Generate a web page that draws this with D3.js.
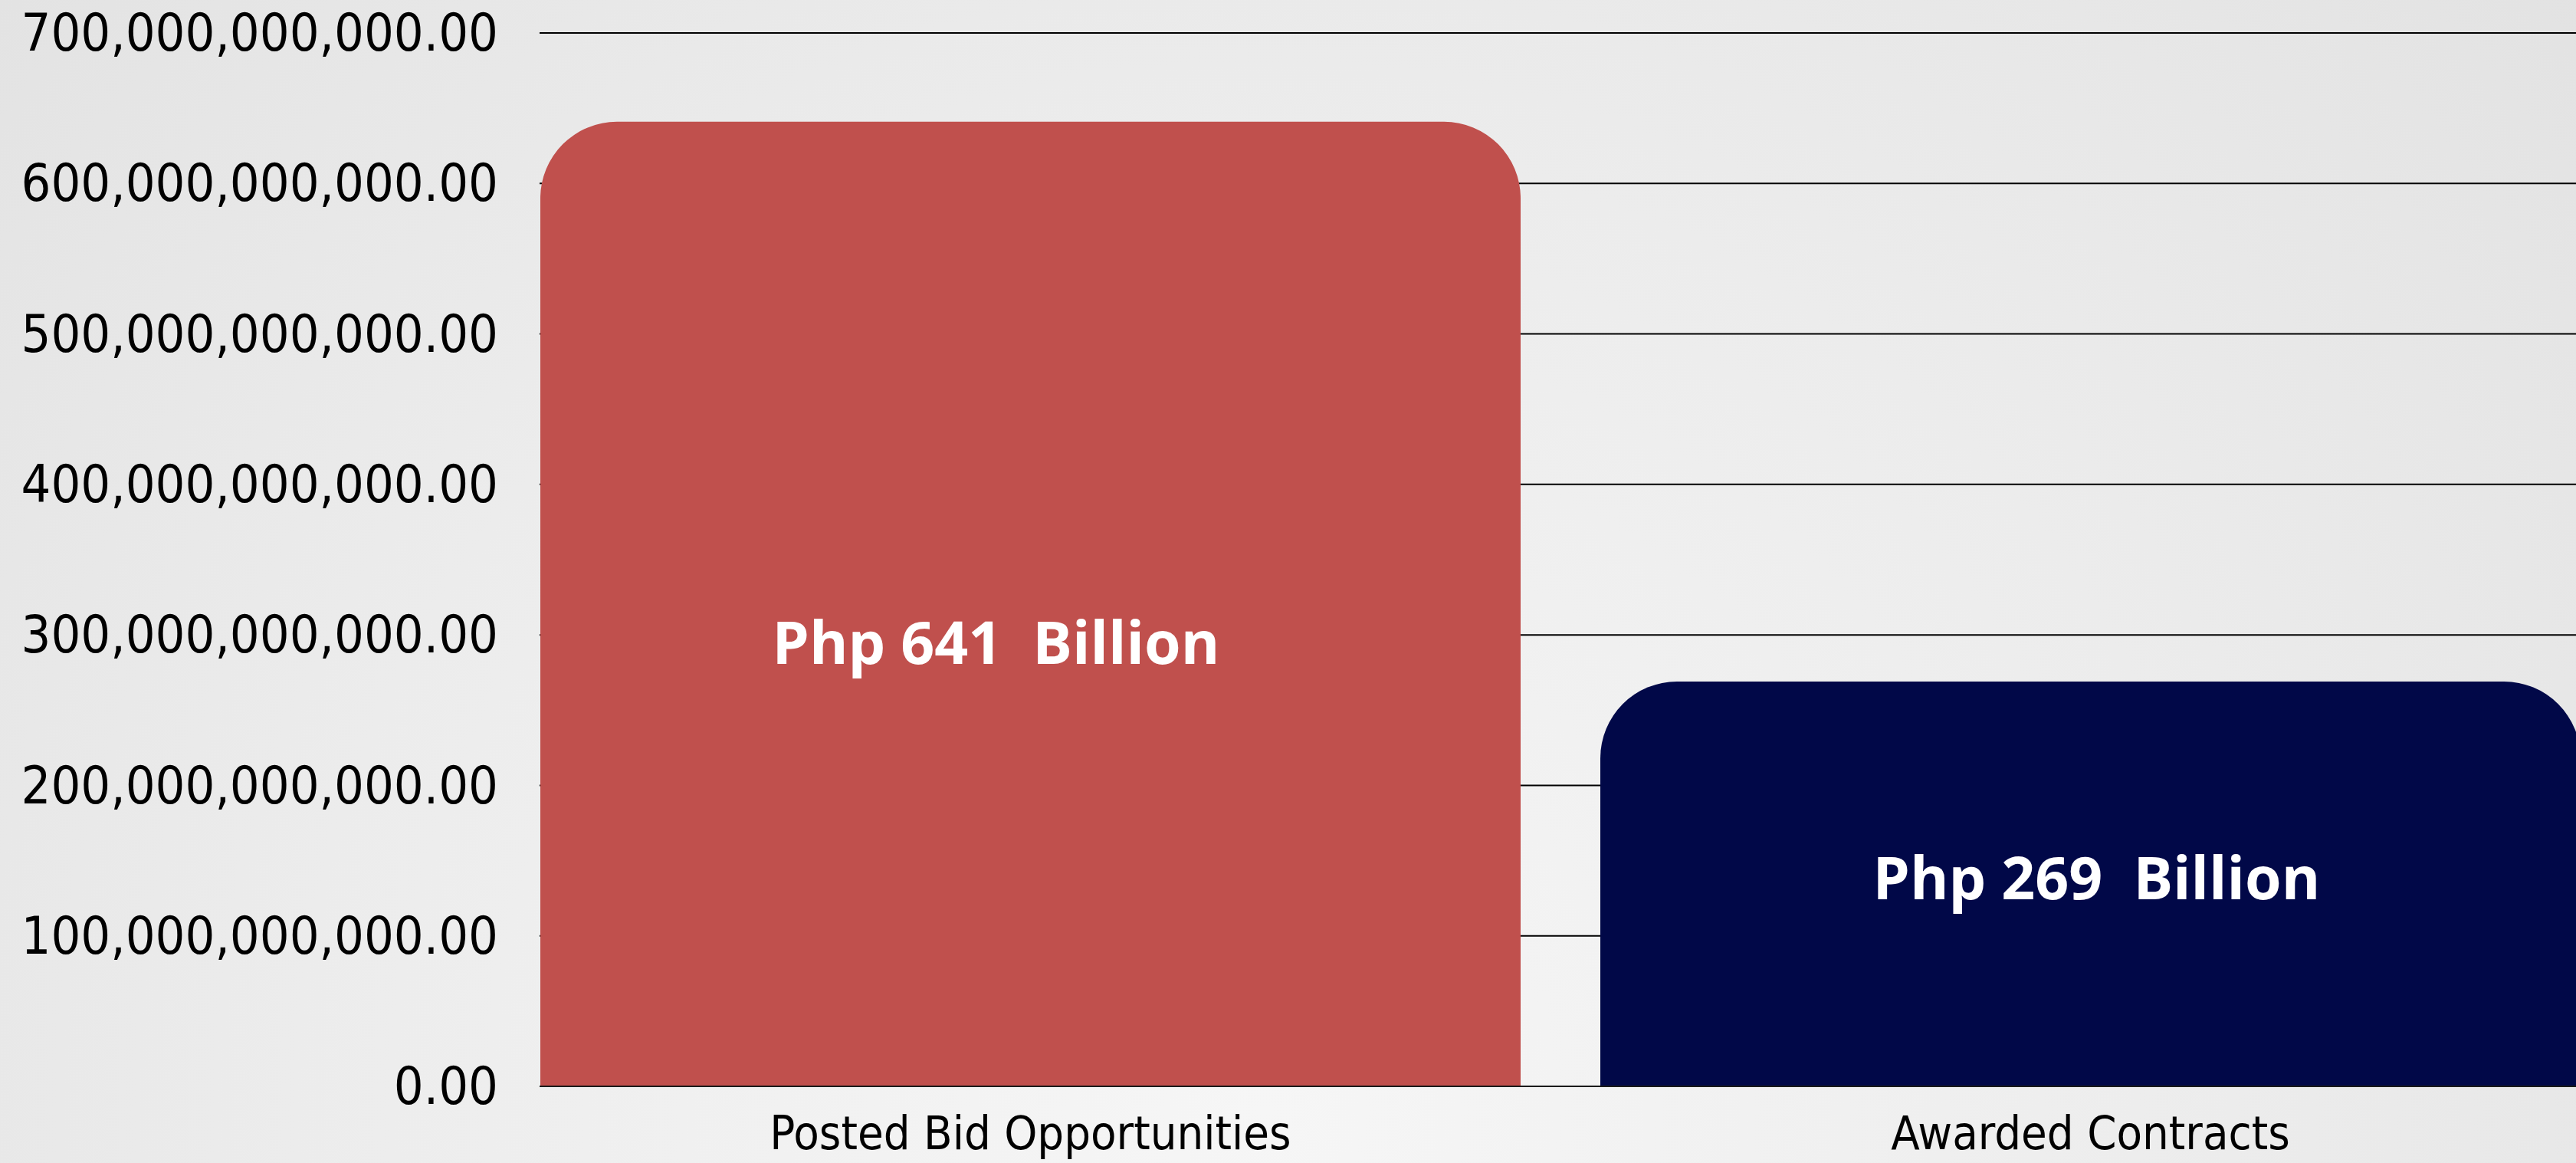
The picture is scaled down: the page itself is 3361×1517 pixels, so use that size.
<!DOCTYPE html>
<html>
<head>
<meta charset="utf-8">
<script src="https://cdn.jsdelivr.net/npm/d3@7"></script>
<style>
  html, body { margin: 0; padding: 0; overflow: hidden; }
  svg { display: block; }
</style>
</head>
<body>
<script>
// ---- data ----
const categories = ["Posted Bid Opportunities", "Awarded Contracts"];
const values = [641e9, 269e9];
const valueLabels = ["Php 641  Billion", "Php 269  Billion"];
const barColors = ["#C0504D", "#010848"];
const yTicks = [0, 100e9, 200e9, 300e9, 400e9, 500e9, 600e9, 700e9];

// ---- layout ----
const W = 3361, H = 1517;
const plotLeft = 705, plotRight = 3367, plotTop = 43, plotBottom = 1417;
const radius = 100;
// manual nudges of the in-bar labels (px), as placed in the original slide
const labelNudge = [[-45, 50], [8, -8]];

const svg = d3.select("body").append("svg").attr("width", W).attr("height", H);

const defs = svg.append("defs");
const grad = defs.append("radialGradient").attr("id", "bg")
  .attr("gradientUnits", "userSpaceOnUse")
  .attr("cx", 1650).attr("cy", 1450).attr("r", 2300);
grad.append("stop").attr("offset", "0").attr("stop-color", "#f6f6f6");
grad.append("stop").attr("offset", "0.55").attr("stop-color", "#ececec");
grad.append("stop").attr("offset", "1").attr("stop-color", "#e2e2e2");
svg.append("rect").attr("width", W).attr("height", H).attr("fill", "url(#bg)");

const x = d3.scaleBand().domain(categories).range([plotLeft, plotRight])
  .paddingInner(0.0752).paddingOuter(0);
const y = d3.scaleLinear().domain([0, 700e9]).range([plotBottom, plotTop]);

// gridlines
svg.append("g").selectAll("line").data(yTicks).join("line")
  .attr("x1", 704).attr("x2", W)
  .attr("y1", d => y(d)).attr("y2", d => y(d))
  .attr("stroke", "#000").attr("stroke-width", 2);

// y axis labels
const fmt = d3.format(",.2f");
svg.append("g").selectAll("text").data(yTicks).join("text")
  .attr("x", 650).attr("y", d => y(d)).attr("dy", "0.34em")
  .attr("text-anchor", "end")
  .style("font-family", "'DejaVu Sans Condensed', 'DejaVu Sans'")
  .style("font-stretch", "condensed")
  .style("font-size", "68px").attr("fill", "#000")
  .text(d => fmt(d));

// bars with rounded top corners
function barPath(x0, w, yTop, yBase, r) {
  const rr = Math.min(r, w / 2, yBase - yTop);
  return `M${x0},${yBase} L${x0},${yTop + rr} A${rr},${rr} 0 0 1 ${x0 + rr},${yTop}` +
         ` L${x0 + w - rr},${yTop} A${rr},${rr} 0 0 1 ${x0 + w},${yTop + rr} L${x0 + w},${yBase} Z`;
}
svg.append("g").selectAll("path").data(categories).join("path")
  .attr("d", (c, i) => barPath(x(c), x.bandwidth(), y(values[i]), y(0), radius))
  .attr("fill", (c, i) => barColors[i]);

// baseline
svg.append("line").attr("x1", 704).attr("x2", W).attr("y1", y(0)).attr("y2", y(0))
  .attr("stroke", "#1a1a1a").attr("stroke-width", 2);

// value labels
svg.append("g").selectAll("text").data(categories).join("text")
  .attr("x", (c, i) => x(c) + x.bandwidth() / 2 + labelNudge[i][0])
  .attr("y", (c, i) => (y(values[i]) + y(0)) / 2 + labelNudge[i][1])
  .attr("dy", "0.36em")
  .attr("text-anchor", "middle")
  .style("font-family", "'Open Sans', sans-serif")
  .style("font-weight", "bold")
  .style("font-size", "77px")
  .style("white-space", "pre")
  .attr("xml:space", "preserve")
  .attr("fill", "#fff")
  .text((c, i) => valueLabels[i]);

// category labels
svg.append("g").selectAll("text").data(categories).join("text")
  .attr("x", c => x(c) + x.bandwidth() / 2)
  .attr("y", 1499)
  .attr("text-anchor", "middle")
  .style("font-family", "'DejaVu Sans Condensed', 'DejaVu Sans'")
  .style("font-stretch", "condensed")
  .style("font-size", "61px").attr("fill", "#000")
  .text(c => c);
</script>
</body>
</html>
